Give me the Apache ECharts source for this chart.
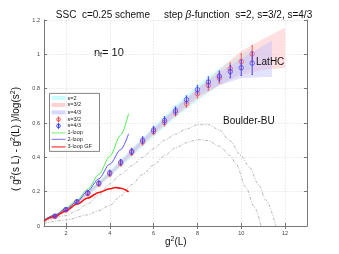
<!DOCTYPE html>
<html><head><meta charset="utf-8">
<script src="https://cdn.jsdelivr.net/npm/echarts@6/dist/echarts.min.js"></script>
<style>html,body{margin:0;padding:0;background:#fff}#c{width:339px;height:254px}</style>
</head><body><div id="c"></div>
<script>
// ---- data ----
const ptX = [1.5,2,2.5,3,3.5,4,4.5,5,5.5,6,6.5,7,7.5,8,8.5,9,9.5,10,10.5];
const s32Y = [0.055,0.093,0.138,0.188,0.244,0.303,0.364,0.427,0.49,0.55,0.603,0.66,0.713,0.771,0.819,0.862,0.916,0.958,1.003];
const s32Err = [0.008,0.01,0.01,0.012,0.012,0.014,0.015,0.016,0.018,0.018,0.02,0.02,0.022,0.025,0.028,0.03,0.034,0.045,0.048];
const s43Y = [0.058,0.096,0.142,0.193,0.25,0.31,0.372,0.435,0.5,0.56,0.615,0.672,0.736,0.794,0.839,0.873,0.90,0.922,0.949];
const s43Err = [0.008,0.01,0.01,0.012,0.013,0.015,0.016,0.018,0.02,0.02,0.022,0.022,0.022,0.025,0.03,0.03,0.037,0.045,0.066];

const band2X  = [1.4,2,3,4,5,6,7,8,9,10,10.5];
const band2Up = [0.06,0.1,0.2,0.32,0.45,0.58,0.705,0.82,0.92,1.0,1.035];
const band2Lo = [0.045,0.085,0.175,0.285,0.4,0.52,0.63,0.73,0.82,0.89,0.92];
const band32X  = [1.4,2,3,4,5,6,7,8,9,10,11,12];
const band32Up = [0.058,0.098,0.195,0.31,0.44,0.565,0.685,0.8,0.91,1.02,1.09,1.155];
const band32Lo = [0.048,0.085,0.178,0.29,0.41,0.53,0.64,0.74,0.82,0.88,0.91,0.92];
const band43X  = [1.4,2,3,4,5,6,7,8,9,10,11,11.4];
const band43Up = [0.06,0.1,0.2,0.315,0.445,0.57,0.69,0.8,0.895,0.975,1.05,1.08];
const band43Lo = [0.05,0.088,0.182,0.295,0.415,0.54,0.645,0.755,0.82,0.86,0.868,0.868];

const loopX = [1,1.5,2,2.5,3,3.5,4,4.5,4.86];
const oneLoopY = [0.035,0.065,0.105,0.15,0.215,0.3,0.405,0.53,0.655];
const twoLoopY = [0.035,0.063,0.1,0.14,0.205,0.275,0.36,0.445,0.537];
const gfX = [1,1.5,2,2.5,3,3.5,4,4.25,4.5,4.86];
const gfY = [0.03,0.055,0.088,0.128,0.163,0.195,0.217,0.224,0.22,0.199];

const buUpX = [1,2,2.5,3,3.5,4,4.5,5,5.5,6,6.5,7,7.5,8,8.5,9,9.45,10,10.36,10.8,11.12,11.58];
const buUpY = [0.025,0.06,0.09,0.13,0.18,0.245,0.3,0.35,0.4,0.45,0.5,0.535,0.565,0.59,0.59,0.56,0.5,0.41,0.344,0.24,0.151,0];
const buLoX = [1,2,3,3.5,4,4.5,5,5.5,6,6.5,7,7.5,8,8.5,9,9.5,9.76,10.2,10.6,10.9];
const buLoY = [0.015,0.035,0.065,0.09,0.12,0.175,0.24,0.3,0.355,0.41,0.455,0.485,0.503,0.497,0.465,0.41,0.363,0.228,0.11,0];

const xTicks = [2,4,6,8,10,12];
const yTicks = [0,0.2,0.4,0.6,0.8,1,1.2];

// ---- helpers ----
const zip = (xs, ys) => xs.map((x,i)=>[x, ys[i]]);
const FONT = '"Liberation Sans", Arial, sans-serif';

function bandSeries(name, xs, up, lo, fill){
  return {
    type:'custom', name, z:1, clip:true,
    data:[[xs[0], up[0]]],
    renderItem:(params, api)=>{
      const pts = [];
      for (let i=0;i<xs.length;i++) pts.push(api.coord([xs[i], up[i]]));
      for (let i=xs.length-1;i>=0;i--) pts.push(api.coord([xs[i], lo[i]]));
      return {type:'polygon', shape:{points:pts}, style:{fill:fill}};
    }
  };
}
function errSeries(ys, errs, color, z){
  return {
    type:'custom', z, clip:true,
    data: ptX.map((x,i)=>[x, ys[i], errs[i]]),
    renderItem:(params, api)=>{
      const x = api.value(0), y = api.value(1), e = api.value(2);
      const t = api.coord([x, y+e]), b = api.coord([x, y-e]);
      return {type:'group', children:[
        {type:'line', shape:{x1:t[0],y1:t[1],x2:b[0],y2:b[1]}, style:{stroke:color, lineWidth:0.9}},
        {type:'line', shape:{x1:t[0]-0.8,y1:t[1],x2:t[0]+0.8,y2:t[1]}, style:{stroke:color, lineWidth:0.8}},
        {type:'line', shape:{x1:b[0]-0.8,y1:b[1],x2:b[0]+0.8,y2:b[1]}, style:{stroke:color, lineWidth:0.8}}
      ]};
    }
  };
}
function lineSeries(xs, ys, color, width, type, z){
  return {type:'line', data:zip(xs,ys), showSymbol:false, symbol:'none', smooth:0.3, smoothMonotone:'x',
    lineStyle:{color, width, type: type||'solid'}, z: z||3, silent:true};
}

const chart = echarts.init(document.getElementById('c'), null, {renderer:'canvas'});
const axisCol = '#777';
const option = {
  animation:false,
  backgroundColor:'#fff',
  title:{
    text:'SSC  c=0.25 scheme     step {b|β}-function  s=2, s=3/2, s=4/3',
    left:179, top:5, textAlign:'center',
    textStyle:{fontFamily:FONT, fontSize:10, fontWeight:'normal', color:'#111',
      rich:{b:{fontFamily:FONT, fontSize:10, fontStyle:'italic', color:'#111'}}}
  },
  grid:{left:44, right:32, top:20, bottom:28, containLabel:false},
  xAxis:[
    {type:'value', min:1, max:13, interval:0.5, position:'bottom',
      axisLine:{show:true, lineStyle:{color:axisCol, width:1}},
      axisTick:{show:true, inside:true, length:3, customValues:xTicks, lineStyle:{color:axisCol}},
      axisLabel:{show:true, customValues:xTicks, fontSize:5.5, color:'#444', fontFamily:FONT, margin:4},
      splitLine:{show:true, lineStyle:{color:'#d8d8d8', type:[1.5,1.5], width:0.6}}
    },
    {type:'value', min:1, max:13, interval:0.5, position:'top',
      axisLine:{show:false},
      axisTick:{show:true, inside:true, length:3, customValues:xTicks, lineStyle:{color:axisCol}},
      axisLabel:{show:false}, splitLine:{show:false}
    }
  ],
  yAxis:[
    {type:'value', min:0, max:1.2, interval:0.1, position:'left',
      axisLine:{show:true, lineStyle:{color:axisCol, width:1}},
      axisTick:{show:true, inside:true, length:3, customValues:yTicks, lineStyle:{color:axisCol}},
      axisLabel:{show:true, customValues:yTicks, fontSize:5.5, color:'#444', fontFamily:FONT, margin:4},
      splitLine:{show:true, lineStyle:{color:'#d8d8d8', type:[1.5,1.5], width:0.6}}
    },
    {type:'value', min:0, max:1.2, interval:0.1, position:'right',
      axisLine:{show:true, lineStyle:{color:axisCol, width:1}},
      axisTick:{show:true, inside:true, length:3, customValues:yTicks, lineStyle:{color:axisCol}},
      axisLabel:{show:false}, splitLine:{show:false}
    }
  ],
  series:[
    bandSeries('s=2', band2X, band2Up, band2Lo, 'rgba(175,255,255,0.55)'),
    bandSeries('s=3/2', band32X, band32Up, band32Lo, 'rgba(255,185,185,0.45)'),
    bandSeries('s=4/3', band43X, band43Up, band43Lo, 'rgba(190,190,255,0.45)'),
    lineSeries(buUpX, buUpY, '#888', 0.6, [3,1.5,1,1.5], 2),
    lineSeries(buLoX, buLoY, '#888', 0.6, [3,1.5,1,1.5], 2),
    lineSeries(loopX, oneLoopY, '#55ee55', 1, 'solid', 3),
    lineSeries(loopX, twoLoopY, '#5555ff', 1, 'solid', 3),
    lineSeries(gfX, gfY, '#ff1010', 1.6, 'solid', 3),
    errSeries(s32Y, s32Err, '#ff5050', 5),
    {type:'scatter', z:6, data:zip(ptX, s32Y), symbol:'circle', symbolSize:4.5,
      itemStyle:{color:'rgba(255,255,255,0)', borderColor:'#ff4040', borderWidth:0.8}, silent:true},
    errSeries(s43Y, s43Err, '#3a3aff', 7),
    {type:'scatter', z:8, data:zip(ptX, s43Y), symbol:'circle', symbolSize:4.5,
      itemStyle:{color:'rgba(255,255,255,0)', borderColor:'#3030ff', borderWidth:0.8}, silent:true}
  ],
  graphic:[
    {type:'text', left:165, top:236, style:{text:'g{s|2}(L)', fontFamily:FONT, fontSize:10, fill:'#111',
      rich:{s:{fontSize:7, verticalAlign:'top', padding:[0,0,6,0], fontFamily:FONT, fill:'#111'}}}},
    {type:'text', x:16, y:139, rotation:Math.PI/2, style:{text:'( g{s|2}(s L) - g{s|2}(L) )/log(s{s|2})',
      fontFamily:FONT, fontSize:10, fill:'#111', align:'center', verticalAlign:'middle',
      rich:{s:{fontSize:7, padding:[0,0,6,0], fontFamily:FONT, fill:'#111'}}}},
    {type:'text', x:94, y:46, style:{text:'n{f|f}= 10', fontFamily:FONT, fontSize:11, fill:'#111',
      rich:{f:{fontSize:7, padding:[6,0,0,0], fontFamily:FONT, fill:'#111'}}}},
    {type:'text', x:256, y:57, style:{text:'LatHC', fontFamily:FONT, fontSize:10, fill:'#111'}, z:20},
    {type:'text', x:223, y:116, style:{text:'Boulder-BU', fontFamily:FONT, fontSize:10, fill:'#111'}, z:20},
    // legend box
    {type:'group', left:49, top:93, z:30, children:[
      {type:'rect', shape:{x:0,y:0,width:50,height:58}, style:{fill:'#fff', stroke:'#666', lineWidth:0.8}},
      {type:'rect', shape:{x:2,y:2.5,width:14,height:4}, style:{fill:'rgba(175,255,255,0.7)'}},
      {type:'text', x:18, y:4.7, style:{text:'s=2', fontFamily:FONT, fontSize:5.5, fill:'#222', verticalAlign:'middle'}},
      {type:'rect', shape:{x:2,y:9.5,width:14,height:4}, style:{fill:'rgba(255,190,190,0.7)'}},
      {type:'text', x:18, y:11.5, style:{text:'s=3/2', fontFamily:FONT, fontSize:5.5, fill:'#222', verticalAlign:'middle'}},
      {type:'rect', shape:{x:2,y:17,width:14,height:4}, style:{fill:'rgba(200,200,255,0.7)'}},
      {type:'text', x:18, y:19, style:{text:'s=4/3', fontFamily:FONT, fontSize:5.5, fill:'#222', verticalAlign:'middle'}},
      {type:'line', shape:{x1:9,y1:23,x2:9,y2:29}, style:{stroke:'#ff3030', lineWidth:0.8}},
      {type:'circle', shape:{cx:9,cy:26,r:1.8}, style:{fill:'none', stroke:'#ff3030', lineWidth:0.8}},
      {type:'text', x:18, y:26, style:{text:'s=3/2', fontFamily:FONT, fontSize:5.5, fill:'#222', verticalAlign:'middle'}},
      {type:'line', shape:{x1:9,y1:29.5,x2:9,y2:35.5}, style:{stroke:'#2020ff', lineWidth:0.8}},
      {type:'circle', shape:{cx:9,cy:32.5,r:1.8}, style:{fill:'none', stroke:'#2020ff', lineWidth:0.8}},
      {type:'text', x:18, y:32.5, style:{text:'s=4/3', fontFamily:FONT, fontSize:5.5, fill:'#222', verticalAlign:'middle'}},
      {type:'line', shape:{x1:2,y1:39.5,x2:16,y2:39.5}, style:{stroke:'#88ee88', lineWidth:1.2}},
      {type:'text', x:18, y:39.5, style:{text:'1-loop', fontFamily:FONT, fontSize:5.5, fill:'#222', verticalAlign:'middle'}},
      {type:'line', shape:{x1:2,y1:46,x2:16,y2:46}, style:{stroke:'#8888ff', lineWidth:1.2}},
      {type:'text', x:18, y:46, style:{text:'2-loop', fontFamily:FONT, fontSize:5.5, fill:'#222', verticalAlign:'middle'}},
      {type:'line', shape:{x1:2,y1:53.5,x2:16,y2:53.5}, style:{stroke:'#ff5555', lineWidth:1.4}},
      {type:'text', x:18, y:53.5, style:{text:'3-loop GF', fontFamily:FONT, fontSize:5.5, fill:'#222', verticalAlign:'middle'}}
    ]}
  ]
};
chart.setOption(option);
</script></body></html>
